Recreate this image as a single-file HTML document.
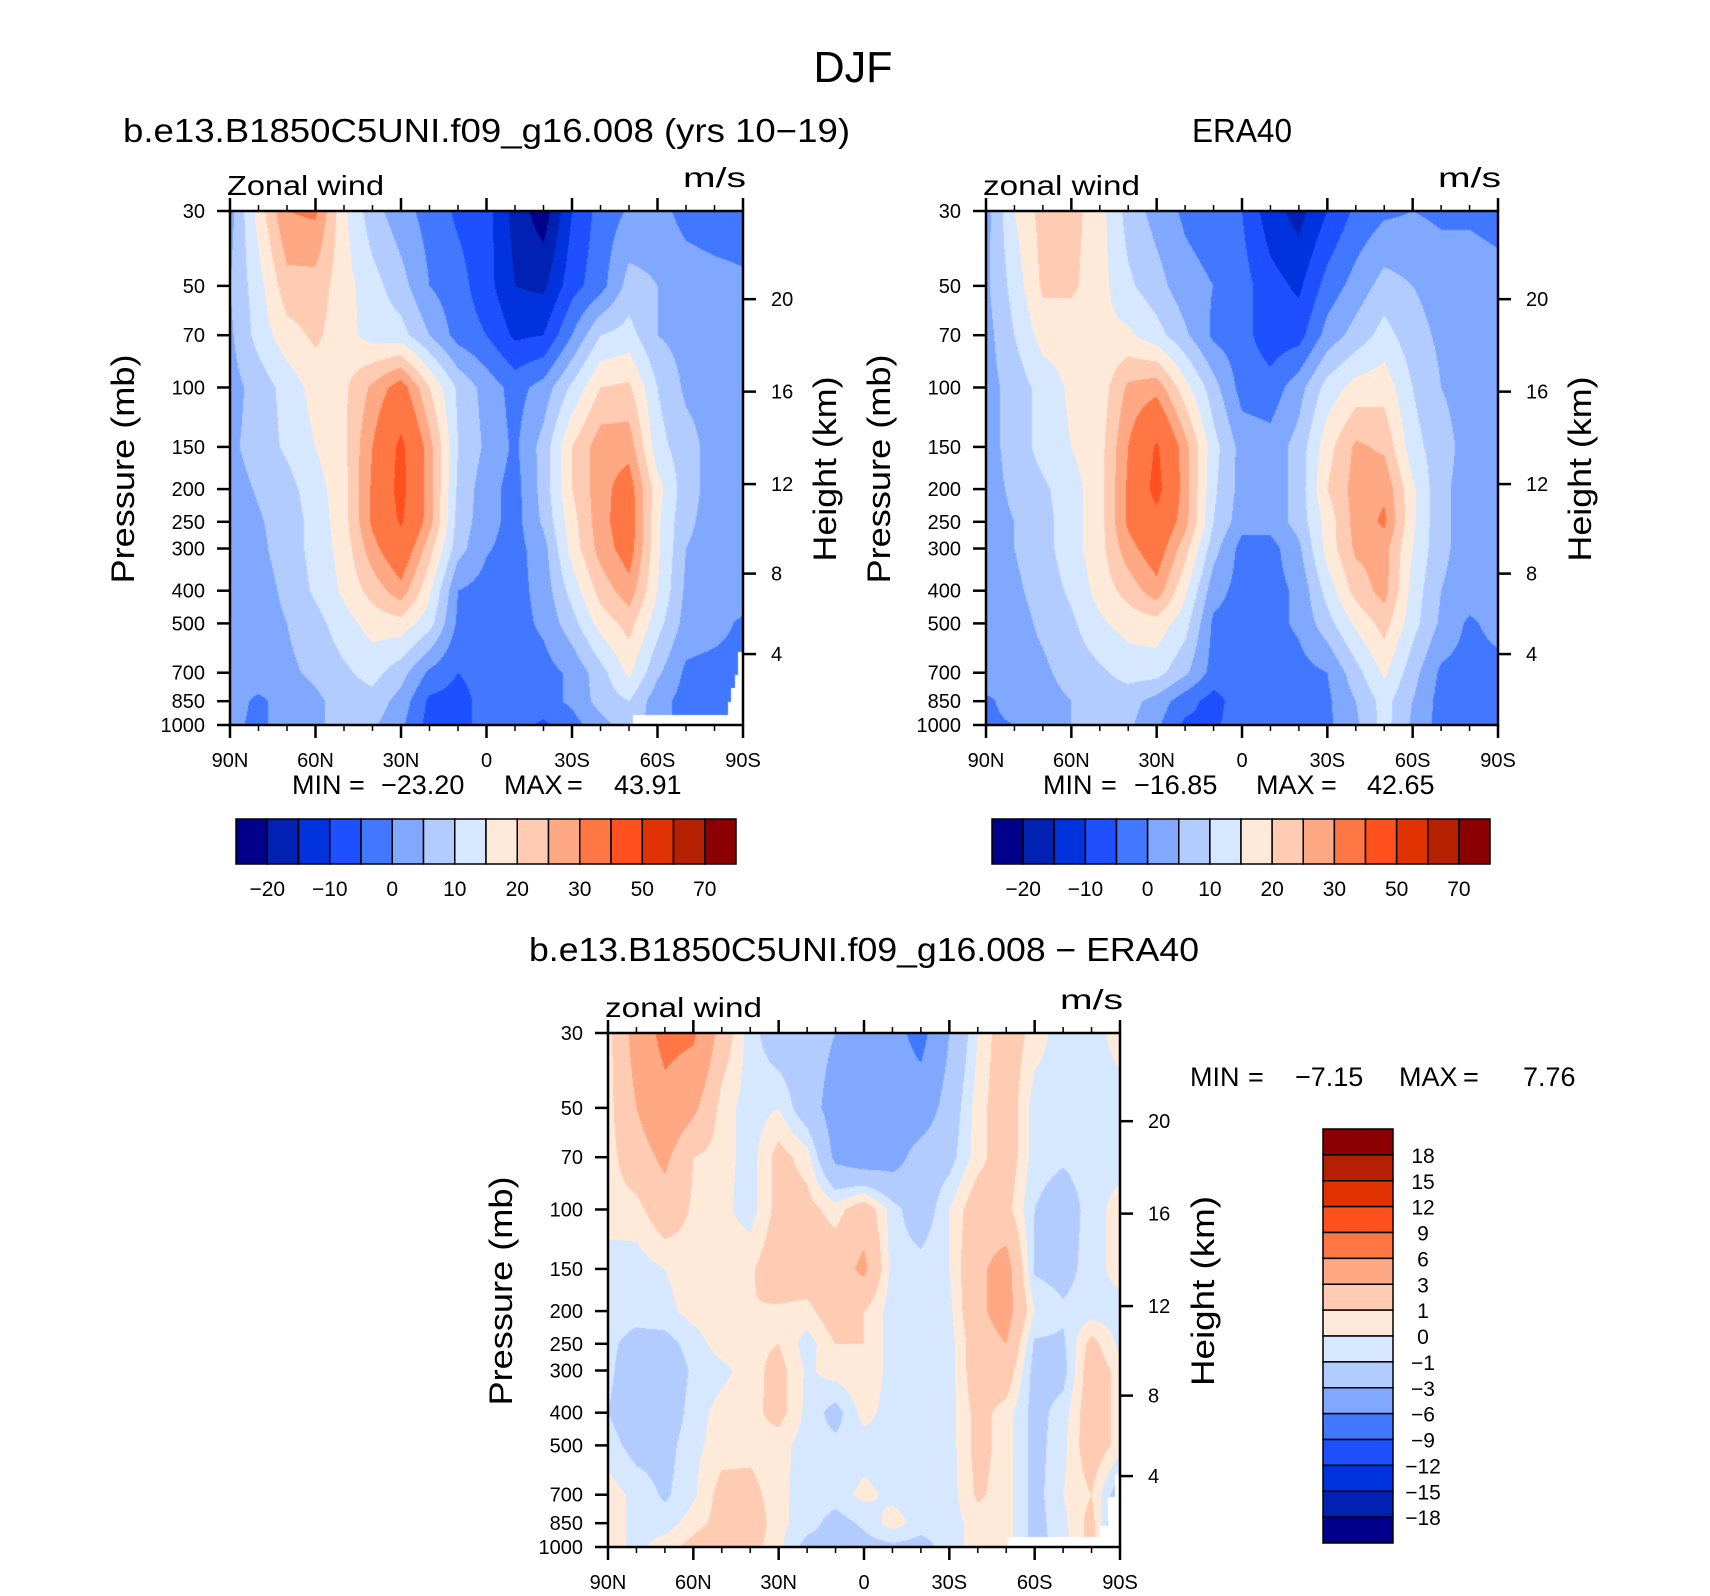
<!DOCTYPE html>
<html><head><meta charset="utf-8">
<style>
html,body{margin:0;padding:0;background:#fff;}
#root{position:relative;width:1710px;height:1596px;overflow:hidden;background:#fff;}
canvas{position:absolute;}
svg{position:absolute;left:0;top:0;}
text{font-family:"Liberation Sans",sans-serif;fill:#000;}
</style></head>
<body>
<div id="root">
<canvas id="c0"></canvas>
<canvas id="c1"></canvas>
<canvas id="c2"></canvas>
<svg id="svg" width="1710" height="1596"></svg>
</div>
<script>
// ---- data ----
const lats = [90,80,70,60,50,40,30,20,10,0,-10,-20,-30,-40,-50,-60,-70,-80,-90];
const plevs = [30,50,70,100,150,200,250,300,400,500,700,850,1000];
const pLabels = ['30','50','70','100','150','200','250','300','400','500','700','850','1000'];
const latTicks = [90,60,30,0,-30,-60,-90];
const latLabels = ['90N','60N','30N','0','30S','60S','90S'];
const kmTicks = [4,8,12,16,20];
const levelsAbs = [-20,-15,-10,-5,0,5,10,15,20,25,30,40,50,60,70];
const labelsAbs = ['\u221220','\u221210','0','10','20','30','50','70'];
const levelsDiff = [-18,-15,-12,-9,-6,-3,-1,0,1,3,6,9,12,15,18];
const labelsDiff = ['18','15','12','9','6','3','1','0','\u22121','\u22123','\u22126','\u22129','\u221212','\u221215','\u221218'];
const palette = ['#00008a','#0021b2','#0033dd','#1e50ff','#4178ff','#80a8ff','#b3ccff','#d6e8ff','#ffeada','#ffccb3','#ffa884','#ff7744','#ff501e','#e03200','#b42000','#8b0000'];

const modelWind = [
[3,17,30,31,16,7,2,-2,-6,-8,-17,-23,-10,-3,0.5,2,-2,-3,-3],
[5,13,23,23,17,12,7,0,-3,-8,-15,-16,-7,-2,7,5,3,2,1],
[4,12,18,21,17,13,12,5,-2,-5,-11,-10,0,10,12,5,3,3,2],
[3,7,12,17,19,26,33,20,9,3,-2,2,11,20,21,10,4,3,3],
[4,7,11,15,19,30,42,27,10,4,-1,7,20,28,28,12,7,3,3],
[3,5.5,8,13,18,31,43,27,9,2,-2,7,20,28,33,17,7,3,3],
[2,4.5,7,12,18,31,41,27,8,2,-2,6,18,28,34,16,6,3,3],
[2,4,7,12,17,28,36,22,7,0.5,-2,3,17,27,33,16,5,3,3],
[2,3,6,11,16,22,28,16,0,-2,-2,2,12,22,28,15,4,3,3],
[2,3,5,8,13,17,18,12,-1,-2,-2,1,8,17,22,12,3,2,-1],
[2,3,4,6,9,12,7,-1,-5,-3,-2,-2,1,8,16,6,-1,-2,-2],
[2,-1,2,4,7,8,3,-6,-7,-3,-2,-2,1,7,10,2,-2,-2,-2],
[1,-1,2,4,7,6,1,-7,-7,-3,-3,-6,-2,3,8,2,-2,-2,-2]];

const era40Wind = [
[3,15,22,22,17,8,3,-1,-3,-5,-13,-17,-10,-4,-1,0,-1,-1,-2],
[4,12,21,21,17,11,7,2,0,-3,-8,-11,-3,2,7,5,3,3,2],
[3,10,17,17,16,16,12,6,-1,-3,-8,-7,2,7,12,7,4,3,3],
[3,7,12,16,17,26,28,17,7,-2,-3,3,12,17,18,10,5,3,3],
[3,7,12,15,18,30,41,27,12,3,2,7,18,26,24,12,7,3,3],
[3,6,9,13,18,31,43,27,11,3,2,7,20,27,29,16,6,3,3],
[3,5,8,13,18,31,37,27,10,2,2,7,17,27,31,16,6,3,3],
[3,5,8,13,18,28,34,22,7,-2,-2,4,17,26,27,15,6,3,3],
[3,4,7,11,17,22,28,16,2,-2,-2,1,12,22,27,13,5,3,3],
[3,3,6,9,14,17,18,12,-1,-2,-2,1,8,16,22,12,4,-1,2],
[3,3,4,7,9,12,12,6,-2,-3,-3,-2,0,8,16,7,-1,-2,-2],
[-1,2,3,5,7,7,3,-3,-7,-2,-2,-2,-1,5,12,5,-2,-2,-2],
[-1,0,3,5,7,6,1,-6,-6,-2,-2,-2,-1,4,12,4,-2,-2,-2]];

const diffWind = [
[0.5,4,7,6.5,2,-0.5,-2,-2,-3,-4.5,-5,-7,-3,0,2,0.5,-0.5,-0.5,0.5],
[0.5,3,5,3.5,0.5,-0.5,0,-2,-4,-6,-4.5,-4.5,-2,0.5,2,-0.5,-0.5,-0.5,-0.5],
[0.5,2,3.5,1,0.5,-0.5,1.5,0.5,-3.5,-4.5,-4,-2,-1.5,0.5,2,-0.5,-0.8,-0.5,-0.5],
[0.5,0.6,2,0.8,0.3,-0.5,1.5,1.5,0.5,2,-0.5,-2,0,2,1.5,-1,-1.8,-0.5,0.5],
[-0.5,-0.5,0,0.5,0.5,0.8,2,2,2,3.5,-0.5,-0.5,0,2.5,4,-1.2,-1.5,-0.5,0.5],
[-0.5,-0.5,-0.3,0.4,0.6,1,0.8,0.6,2,1,-0.5,-0.5,-0.3,2.5,4,0,-0.8,-0.5,-0.5],
[-0.7,-1.5,-1.5,-0.5,0.5,0.7,1,-0.5,1,1,-0.5,-0.5,-0.5,2,3,-1.2,-1.2,1.5,-0.3],
[-0.7,-2,-2,-0.8,-0.3,0.5,1.5,-0.2,0.5,1,-0.5,-0.5,-0.5,2,2,-1.5,-1.5,2,0.5],
[-1,-2,-2,-0.5,0.4,0.6,1.5,-0.3,-1.5,0.4,-0.5,-0.5,-0.5,1.5,0.5,-1.5,-0.5,2,0.5],
[-0.5,-1.5,-1.5,-0.3,0.5,0.6,0.4,-0.5,-0.7,-0.5,-0.5,-0.5,-0.5,1.5,0.5,-1.5,-0.3,2,0.5],
[0.5,-0.3,-1.2,-0.2,1.5,1.5,0.3,-0.5,-0.5,0.3,-0.3,-0.5,-0.5,1.2,0.5,-1.5,0,1,-2],
[0.5,-0.3,-0.5,0.5,1.5,2,0.3,-0.5,-1.5,-0.8,0.5,-0.5,-0.5,0.5,0.5,-1.5,-0.3,1.5,-3],
[0.5,-0.3,0.5,1.5,2.5,1.5,0.3,-1.5,-1.5,-1.5,-1.3,-1.5,-0.5,0.5,0.5,-1.5,-0.5,1.5,-3]];

// below-ground masks (lat <= maskLat and p >= maskP)
const mask1Lat = [-51.3,-84.7,-85.9,-87.1,-88.2];
const mask1P = [933,853,779,710,606];
const mask3Lat = [-50.7,-83.0,-85.9,-88.2];
const mask3P = [933,864,710,606];

const panels = [
 {id:'c0',x0:230,x1:743,y0:211,y1:725,data:modelWind,levels:levelsAbs,mLat:mask1Lat,mP:mask1P,title:'b.e13.B1850C5UNI.f09_g16.008 (yrs 10\u221219)',tLen:727,lbl:'Zonal wind',min:'\u221223.20',max:'43.91',name:'model'},
 {id:'c1',x0:986,x1:1498,y0:211,y1:725,data:era40Wind,levels:levelsAbs,mLat:[],mP:[],title:'ERA40',tLen:100,lbl:'zonal wind',min:'\u221216.85',max:'42.65',name:'era40'},
 {id:'c2',x0:608,x1:1120,y0:1033,y1:1547,data:diffWind,levels:levelsDiff,mLat:mask3Lat,mP:mask3P,title:'b.e13.B1850C5UNI.f09_g16.008 \u2212 ERA40',tLen:670,lbl:'zonal wind',name:'difference'}
];

const LNR = Math.log(1000/30);
function pFrac(p){return Math.log(p/30)/LNR;}
function xOf(P,lat){return P.x0+(90-lat)/180*(P.x1-P.x0);}
function yOf(P,p){return P.y0+pFrac(p)*(P.y1-P.y0);}
function pOfZ(km){const z=km*1000; if(z<=11000) return 1013.25*Math.pow(1-2.25577e-5*z,5.25588); return 226.32*Math.exp(-(z-11000)/6341.6);}
function hex(c){return [parseInt(c.substr(1,2),16),parseInt(c.substr(3,2),16),parseInt(c.substr(5,2),16)];}
const rgb = palette.map(hex);

function drawField(P){
  const cv=document.getElementById(P.id);
  const W=P.x1-P.x0, H=P.y1-P.y0;
  cv.width=W; cv.height=H; cv.style.left=P.x0+'px'; cv.style.top=P.y0+'px';
  const ctx=cv.getContext('2d'); const img=ctx.createImageData(W,H); const d=img.data;
  const fr=plevs.map(pFrac); const nc=lats.length-1;
  for(let y=0;y<H;y++){
    const f=(y+0.5)/H; let r=0; while(r<fr.length-2 && f>fr[r+1]) r++;
    const t=Math.min(1,Math.max(0,(f-fr[r])/(fr[r+1]-fr[r])));
    const p=30*Math.exp(f*LNR);
    for(let x=0;x<W;x++){
      const u=(x+0.5)/W*nc; let c=Math.min(nc-1,Math.floor(u)); const s=u-c;
      const lat=90-u*10;
      let masked=false;
      for(let k=0;k<P.mLat.length;k++){ if(lat<=P.mLat[k] && p>=P.mP[k]) masked=true; }
      const o=(y*W+x)*4;
      if(masked){d[o]=255;d[o+1]=255;d[o+2]=255;d[o+3]=255;continue;}
      const D=P.data;
      const v=(1-t)*((1-s)*D[r][c]+s*D[r][c+1])+t*((1-s)*D[r+1][c]+s*D[r+1][c+1]);
      let k=0; while(k<P.levels.length && v>=P.levels[k]) k++;
      const col=rgb[k]; d[o]=col[0];d[o+1]=col[1];d[o+2]=col[2];d[o+3]=255;
    }
  }
  ctx.putImageData(img,0,0);
}

const svg=document.getElementById('svg'); const NS='http://www.w3.org/2000/svg';
function el(tag,attrs,parent){const e=document.createElementNS(NS,tag);for(const k in attrs)e.setAttribute(k,attrs[k]);(parent||svg).appendChild(e);return e;}
function txt(s,x,y,size,anchor,parent,extra){const e=el('text',Object.assign({x:x,y:y,'font-size':size,'text-anchor':anchor||'start'},extra||{}),parent);e.textContent=s;return e;}

// page title
const tDJF=txt('DJF',853,82,44,'middle',null,{textLength:79,lengthAdjust:'spacingAndGlyphs'});



panels.forEach(function(P,pi){
  drawField(P);
  const g=el('g',{});
  
  
  const cx=(P.x0+P.x1)/2;
  const tb=P.y0-(pi<2?69:72);
  const tt=txt(P.title,cx,tb,33,'middle',g,{textLength:P.tLen,lengthAdjust:'spacingAndGlyphs'});
  
  
  const lb=txt(P.lbl,P.x0-3,P.y0-16,28,'start',g,{textLength:157,lengthAdjust:'spacingAndGlyphs'});
  
  
  const un=txt('m/s',P.x1+3,P.y0-24,28,'end',g,{textLength:63,lengthAdjust:'spacingAndGlyphs'});
  
  
  // frame
  const fr=el('rect',{x:P.x0,y:P.y0,width:P.x1-P.x0,height:P.y1-P.y0,fill:'none',stroke:'#000','stroke-width':2.5},g);
  
  
  // lat ticks
  for(let lat=90;lat>=-90;lat-=10){
    const x=xOf(P,lat); const major=(lat%30===0); const L=major?13:6;
    el('line',{x1:x,x2:x,y1:P.y1,y2:P.y1+L,stroke:'#000','stroke-width':major?2.5:1.5},g);
    el('line',{x1:x,x2:x,y1:P.y0,y2:P.y0-L,stroke:'#000','stroke-width':major?2.5:1.5},g);
  }
  latTicks.forEach(function(lat,i){
    const t=txt(latLabels[i],xOf(P,lat),P.y1+42,20,'middle',g);
    
    
  });
  // pressure ticks
  plevs.forEach(function(p,i){
    const y=yOf(P,p);
    el('line',{x1:P.x0-13,x2:P.x0,y1:y,y2:y,stroke:'#000','stroke-width':2.5},g);
    const t=txt(pLabels[i],P.x0-25,y+7,20,'end',g);
    
    
  });
  // km ticks
  kmTicks.forEach(function(km){
    const y=yOf(P,pOfZ(km));
    el('line',{x1:P.x1,x2:P.x1+13,y1:y,y2:y,stroke:'#000','stroke-width':2.5},g);
    const t=txt(String(km),P.x1+28,y+7,20,'start',g);
    
    
  });
  // axis titles
  const ym=(P.y0+P.y1)/2;
  const pt=txt('Pressure  (mb)',0,0,32,'middle',g,{transform:'translate('+(P.x0-107)+','+(ym+1)+') rotate(-90)',dy:'0.35em',textLength:229,lengthAdjust:'spacingAndGlyphs'});
  
  
  const hx = pi<2 ? P.x1+82 : P.x1+83;
  const ht=txt('Height  (km)',0,0,32,'middle',g,{transform:'translate('+hx+','+(ym+1)+') rotate(-90)',dy:'0.35em',textLength:(pi<2?185:190),lengthAdjust:'spacingAndGlyphs'});
  
  
});

// min/max texts
function minmax(parts,y){
  parts.forEach(function(pp){
    const t=txt(pp[0],pp[1],y,27,'start');
    
    
  });
}
minmax([['MIN',292],['=',349],[panels[0].min,381],['MAX',504],['=',567],[panels[0].max,614]],794);
minmax([['MIN',1043],['=',1101],[panels[1].min,1134],['MAX',1256],['=',1321],[panels[1].max,1367]],794);
minmax([['MIN',1190],['=',1248],['\u22127.15',1295],['MAX',1399],['=',1463],['7.76',1523]],1086);

// horizontal colorbars
function hbar(x0,x1,y0,y1,name){
  const g=el('g',{});
  
  
  const w=(x1-x0)/palette.length;
  palette.forEach(function(c,i){
    const r=el('rect',{x:x0+i*w,y:y0,width:w,height:y1-y0,fill:c,stroke:'#000','stroke-width':1.5},g);
    
    
  });
  labelsAbs.forEach(function(s,i){
    const t=txt(s,x0+(2*i+1)*w,y1+32,21,'middle',g);
    
    
  });
}
hbar(236,736,819,864,'model-colorbar');
hbar(992,1490,819,864,'era40-colorbar');

// vertical colorbar
(function(){
  const x0=1323,x1=1393,y0=1129,y1=1543;
  const g=el('g',{});
  
  
  const h=(y1-y0)/palette.length;
  palette.slice().reverse().forEach(function(c,i){
    const r=el('rect',{x:x0,y:y0+i*h,width:x1-x0,height:h,fill:c,stroke:'#000','stroke-width':1.5},g);
    
    
  });
  labelsDiff.forEach(function(s,i){
    const t=txt(s,1423,y0+(i+1)*h+8,21,'middle',g);
    
    
  });
})();
</script>
</body></html>
